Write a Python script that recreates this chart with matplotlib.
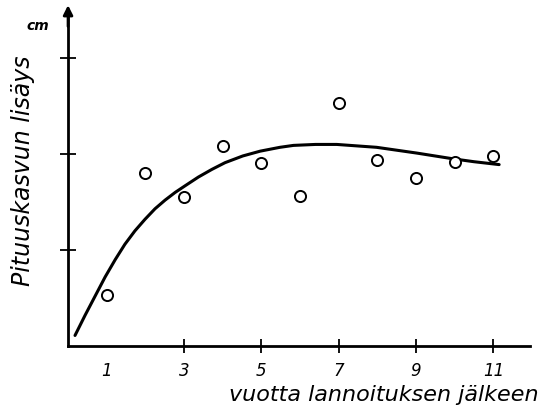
import matplotlib
matplotlib.use("Agg")
import matplotlib.pyplot as plt

# observed growth per year after fertilization
years = [1, 2, 3, 4, 5, 6, 7, 8, 9, 10, 11]
growth = [0.53, 1.80, 1.55, 2.08, 1.91, 1.56, 2.53, 1.94, 1.75, 1.92, 1.98]

# hand-drawn trend curve
curve_x = [0.18, 0.44, 0.70, 0.96, 1.22, 1.47, 1.73, 1.99, 2.25, 2.51,
           2.77, 3.03, 3.37, 3.72, 4.06, 4.52, 4.97, 5.48, 5.83, 6.40,
           6.95, 7.98, 8.50, 9.02, 9.96, 10.50, 11.15]
curve_y = [0.11, 0.32, 0.52, 0.72, 0.90, 1.06, 1.20, 1.32, 1.43, 1.52,
           1.60, 1.67, 1.76, 1.84, 1.91, 1.98, 2.03, 2.07, 2.09, 2.10,
           2.10, 2.07, 2.04, 2.01, 1.95, 1.92, 1.89]

xtick_pos = [1, 3, 5, 7, 9, 11]
xtick_lab = ["1", "3", "5", "7", "9", "11"]
ytick_pos = [1, 2, 3]

fig = plt.figure(figsize=(5.44, 4.10), dpi=100)
ax = fig.add_axes([0, 0, 1, 1])
ax.set_xlim(-1.76, 12.31)
ax.set_ylim(-0.656, 3.615)

ax.spines['left'].set_position(("data", 0))
ax.spines['bottom'].set_position(("data", 0))
ax.spines['right'].set_color("none")
ax.spines['top'].set_color("none")
ax.spines['left'].set_linewidth(2.0)
ax.spines['bottom'].set_linewidth(2.0)
ax.spines['left'].set_bounds(0, 3.45)
ax.spines['bottom'].set_bounds(0, 11.95)

ax.annotate("", xy=(0, 3.58), xytext=(0, 3.3),
            arrowprops=dict(arrowstyle="-|>", color="black", lw=2.0,
                            mutation_scale=14))

ax.set_xticks(xtick_pos)
ax.set_xticklabels(xtick_lab, fontsize=12, fontstyle="italic")
ax.set_yticks(ytick_pos)
ax.set_yticklabels([])
ax.tick_params(axis="x", direction="inout", length=10, width=1.3, pad=6)
ax.tick_params(axis="y", direction="inout", length=12, width=1.3)
ax.xaxis.get_major_ticks()[0].tick1line.set_visible(False)

ax.plot(curve_x, curve_y, color="black", lw=2.2, solid_capstyle="round",
        solid_joinstyle="round")
ax.plot(years, growth, "o", mfc="white", mec="black", ms=8, mew=1.4)

fig.text(38 / 544, 1 - 26 / 410, "cm", fontsize=10, fontstyle="italic",
         fontweight="bold", ha="center", va="center")
fig.text(23 / 544, 1 - 171 / 410, "Pituuskasvun lisäys", fontsize=17,
         fontstyle="italic", rotation=90, ha="center", va="center")
fig.text(384 / 544, 1 - 395 / 410, "vuotta lannoituksen jälkeen", fontsize=16,
         fontstyle="italic", ha="center", va="center")

fig.savefig("out.png", dpi=100)
